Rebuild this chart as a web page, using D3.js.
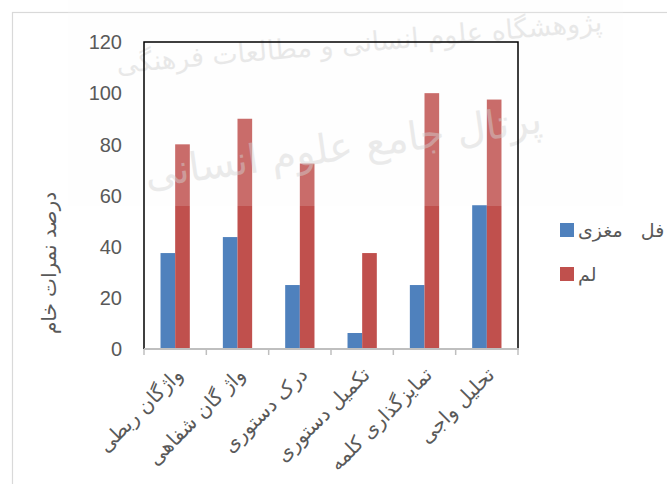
<!DOCTYPE html>
<html><head><meta charset="utf-8">
<script src="https://cdn.jsdelivr.net/npm/d3@7"></script>
<style>body{margin:0;background:#fff;}svg{display:block;}text{white-space:pre;}</style>
</head><body>
<svg id="chart" width="667" height="484"></svg>
<script>
const categories = ["واژگان ربطی","واژ گان شفاهی","درک دستوری","تکمیل دستوری","تمایزگذاری کلمه","تحلیل واجی"];
const seriesNames = ["فل   مغزی","لم"];
const seriesA = [37.5, 43.75, 25, 6.25, 25, 56.25];
const seriesB = [80, 90, 72.5, 37.5, 100, 97.5];
const yTicks = [0,20,40,60,80,100,120];
const yTitle = "درصد نمرات خام";
const watermark1 = "پژوهشگاه علوم انسانی و مطالعات فرهنگی";
const watermark2 = "پرتال جامع علوم انسانی";

const colors = ["#4F81BD","#C0504D"];
const svg = d3.select("#chart");
const L=144, R=518, T=42, B=349;

// outer chart border
svg.append("rect").attr("x",12.5).attr("y",12.5).attr("width",700).attr("height",500)
  .attr("fill","#fff").attr("stroke","#d9d9d9").attr("stroke-width",1.2);

const y = d3.scaleLinear().domain([0,120]).range([B,T]);
const x0 = d3.scaleBand().domain(categories).range([L,R]).paddingInner(0.53).paddingOuter(0.265);
const x1 = d3.scaleBand().domain([0,1]).range([0,x0.bandwidth()]);

const data = categories.map((c,i)=>({c, v:[seriesA[i],seriesB[i]]}));
const g = svg.append("g");
g.selectAll("g.cat").data(data).join("g").attr("class","cat")
  .attr("transform",d=>`translate(${x0(d.c)},0)`)
  .selectAll("rect").data(d=>d.v.map((v,k)=>({v,k}))).join("rect")
  .attr("x",d=>x1(d.k)).attr("width",x1.bandwidth())
  .attr("y",d=>y(d.v)).attr("height",d=>B-y(d.v))
  .attr("fill",d=>colors[d.k]);

// watermark overlay
svg.append("rect").attr("x",68).attr("y",0).attr("width",555).attr("height",206)
  .attr("fill","#fbfbfb").attr("opacity",0.17);
svg.append("text").attr("transform","translate(360,52) rotate(-5)")
  .attr("text-anchor","middle").attr("font-family","DejaVu Sans").attr("font-size",27)
  .attr("fill","#d4d4d4").attr("opacity",0.5).text(watermark1);
svg.append("text").attr("transform","translate(345,160) rotate(-8)")
  .attr("text-anchor","middle").attr("font-family","DejaVu Sans").attr("font-size",40)
  .attr("fill","#d4d4d4").attr("opacity",0.45).text(watermark2);

// plot frame
svg.append("path").attr("d",`M${L},${B}V${T}H${R}V${B}`).attr("fill","none")
  .attr("stroke","#000").attr("stroke-width",1.5);

// x axis
const xAxis = svg.append("g");
xAxis.append("line").attr("x1",L).attr("x2",R+1).attr("y1",B).attr("y2",B)
  .attr("stroke","#bfbfbf").attr("stroke-width",2);
const bounds = categories.map(c=>x0(c)-x0.step()*x0.paddingInner()/2);
bounds.push(R);
xAxis.selectAll("line.tk").data(bounds).join("line").attr("class","tk")
  .attr("x1",d=>d).attr("x2",d=>d).attr("y1",B).attr("y2",B+6)
  .attr("stroke","#bfbfbf").attr("stroke-width",1.5);
xAxis.selectAll("text").data(categories).join("text")
  .attr("transform",d=>`translate(${x0(d)+x0.bandwidth()/2+4},${B+22}) rotate(-45)`)
  .attr("text-anchor","end").attr("dy","0.35em")
  .attr("font-family","DejaVu Sans").attr("font-size",20).attr("fill","#595959")
  .text(d=>d);

// y axis labels
svg.append("g").selectAll("text").data(yTicks).join("text")
  .attr("x",122).attr("y",d=>y(d)).attr("dy","0.36em").attr("text-anchor","end")
  .attr("font-family","Liberation Sans").attr("font-size",20).attr("fill","#595959")
  .text(d=>d);

svg.append("text").attr("transform","translate(49,263) rotate(-90)")
  .attr("text-anchor","middle").attr("dy","0.35em")
  .attr("font-family","DejaVu Sans").attr("font-size",20).attr("fill","#595959").text(yTitle);

// legend
const leg = svg.append("g").selectAll("g").data(seriesNames).join("g")
  .attr("transform",(d,i)=>`translate(560,${223+i*44})`);
leg.append("rect").attr("width",14).attr("height",14).attr("fill",(d,i)=>colors[i]);
leg.append("text").attr("x",18).attr("y",7).attr("dy","0.35em")
  .attr("font-family","DejaVu Sans").attr("font-size",19).attr("fill","#595959").text(d=>d);
</script>
</body></html>
